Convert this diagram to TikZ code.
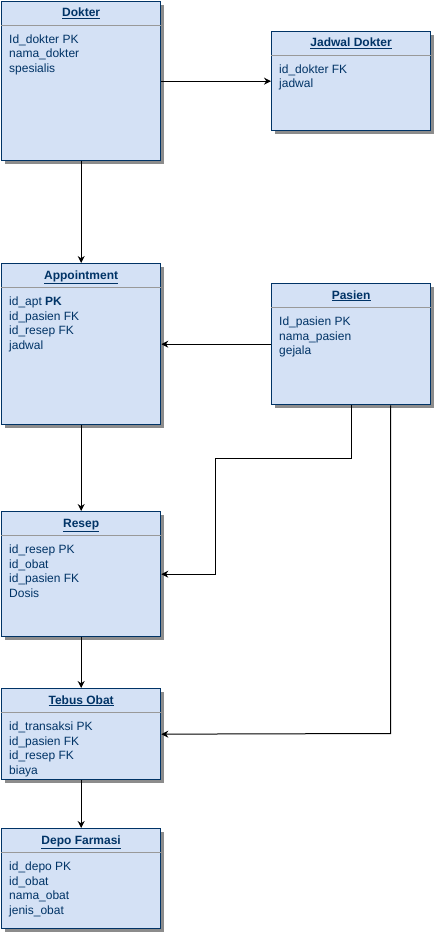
\documentclass[tikz,border=0pt]{standalone}
\usepackage{fontspec}
\setmainfont{Liberation Sans}
\usetikzlibrary{arrows.meta,shadows}
\definecolor{fillb}{HTML}{D4E1F5}
\definecolor{navy}{HTML}{003366}
\definecolor{sepgray}{HTML}{999999}
\tikzset{
  entbox/.style={draw=navy, fill=fillb, line width=1.3pt, anchor=north west, inner sep=0pt,
    drop shadow={shadow xshift=3pt, shadow yshift=-3pt, fill=black!45, opacity=1}},
  ttl/.style={anchor=base, inner sep=0pt, text=navy, font=\fontsize{12}{14}\selectfont\bfseries},
  rowtxt/.style={anchor=base west, inner sep=0pt, text=navy, font=\fontsize{12}{14}\selectfont},
  conn/.style={draw=black, line width=1pt, -{Stealth[length=7pt,width=7pt]}},
  sep/.style={draw=sepgray, line width=0.9pt}
}
\newcommand\entdecor[3]{%
  \node[ttl] (#1t) at ([yshift=-16pt]#1.north) {\underline{#2}};
  \draw[sep] ([yshift=-24pt]#1.north west) -- ([yshift=-24pt]#1.north east);
  \foreach \t [count=\i] in {#3} {
    \node[rowtxt] (#1r\i) at ([xshift=8pt,yshift=-42.5pt-(\i-1)*14.5pt]#1.north west) {\t};
  }
}
\begin{document}
\begin{tikzpicture}[x=1pt,y=-1pt]
\useasboundingbox[fill=white] (0,0) rectangle (434,933);
\node[entbox, minimum width=159pt, minimum height=159pt] (dok) at (1,1) {};
\node[entbox, minimum width=159pt, minimum height=99pt] (jad) at (271,31) {};
\node[entbox, minimum width=159pt, minimum height=161pt] (app) at (1,263) {};
\node[entbox, minimum width=159pt, minimum height=121pt] (pas) at (271,283) {};
\node[entbox, minimum width=159pt, minimum height=125pt] (res) at (1,511) {};
\node[entbox, minimum width=159pt, minimum height=91pt] (teb) at (1,688) {};
\node[entbox, minimum width=159pt, minimum height=100pt] (dep) at (1,828) {};
\entdecor{dok}{Dokter}{Id\_dokter PK, nama\_dokter, spesialis}
\entdecor{jad}{Jadwal Dokter}{id\_dokter FK, jadwal}
\entdecor{app}{Appointment}{{id\_apt \textbf{PK}}, id\_pasien FK, id\_resep FK, jadwal}
\entdecor{pas}{Pasien}{Id\_pasien PK, nama\_pasien, gejala}
\entdecor{res}{Resep}{id\_resep PK, id\_obat, id\_pasien FK, Dosis}
\entdecor{teb}{Tebus Obat}{id\_transaksi PK, id\_pasien FK, id\_resep FK, biaya}
\entdecor{dep}{Depo Farmasi}{id\_depo PK, id\_obat, nama\_obat, jenis\_obat}
\coordinate (k1) at (215.5,458.5);
\coordinate (k2) at (390.5,733.5);
\draw[conn] (dok.east) -- (jad.west);
\draw[conn] (dok.south) -- (app.north);
\draw[conn] (pas.west) -- (app.east);
\draw[conn] (app.south) -- (res.north);
\draw[conn] (pas.south) -- (pas.south |- k1) -- (k1) -- (k1 |- res.east) -- (res.east);
\draw[conn] (pas.south -| k2) -- (k2) -- (teb.east);
\draw[conn] (res.south) -- (teb.north);
\draw[conn] (teb.south) -- (dep.north);
\end{tikzpicture}
\end{document}
